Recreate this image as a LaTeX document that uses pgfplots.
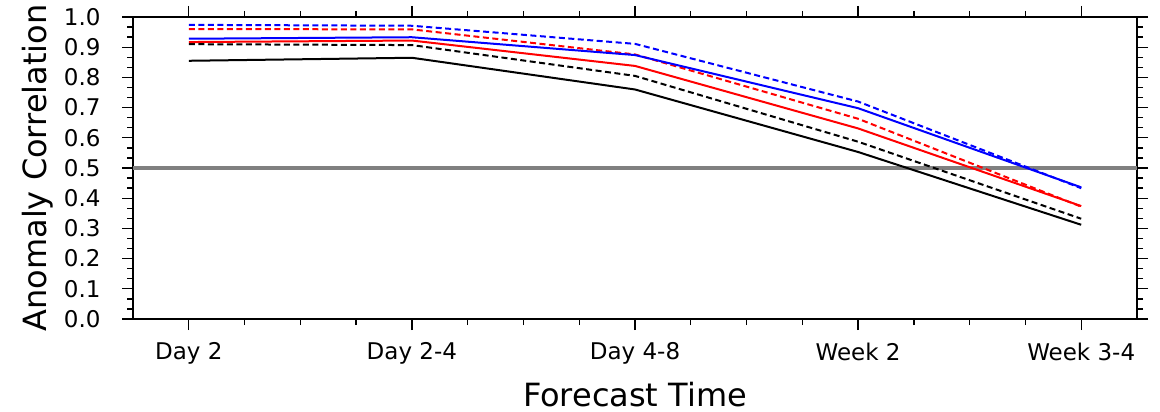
\documentclass[border=0pt]{standalone}
\usepackage{fontspec}
\setmainfont{DejaVu Sans}
\usepackage{pgfplots}
\pgfplotsset{compat=1.18}
\usetikzlibrary{calc}

\begin{document}
\begin{tikzpicture}
\begin{axis}[
    scale only axis,
    width=1004pt, height=302pt,
    xmin=-0.25, xmax=4.25,
    ymin=0, ymax=1,
    xtick={0,1,2,3,4},
    xticklabels={Day 2, Day 2-4, Day 4-8, Week 2, Week 3-4},
    minor x tick num=3,
    ytick={0,0.1,...,1.0},
    minor y tick num=2,
    /pgf/number format/assume math mode=true,
    tick align=outside,
    tick pos=both,
    xticklabel pos=bottom,
    yticklabel pos=left,
    major tick length=11pt,
    minor tick length=6pt,
    every tick/.style={black, line width=1.3pt},
    axis line style={line width=1.5pt},
    tick label style={font=\fontsize{23}{27}\selectfont},
    xticklabel style={yshift=-9pt},
    yticklabel style={xshift=-18pt, /pgf/number format/.cd, fixed, fixed zerofill, precision=1},
    xlabel={Forecast Time},
    ylabel={Anomaly Correlation},
    every axis x label/.style={at={(axis description cs:0.5,-0.25)}, anchor=center,
        font=\fontsize{32}{37}\selectfont},
    every axis y label/.style={at={(axis description cs:-0.0946,0.5)}, rotate=90, anchor=center,
        font=\fontsize{32}{37}\selectfont},
]
% reference line at 0.5
\addplot[gray, line width=4pt] coordinates {(-0.25,0.5) (4.25,0.5)};

\addplot[black, line width=2pt] coordinates {
    (0,0.855) (1,0.865) (2,0.760) (3,0.553) (4,0.312)};
\addplot[black, line width=2pt, dash pattern=on 6pt off 3.5pt] coordinates {
    (0,0.910) (1,0.907) (2,0.805) (3,0.587) (4,0.332)};
\addplot[red, line width=2pt] coordinates {
    (0,0.917) (1,0.922) (2,0.838) (3,0.631) (4,0.374)};
\addplot[red, line width=2pt, dash pattern=on 6pt off 3.5pt] coordinates {
    (0,0.960) (1,0.959) (2,0.876) (3,0.663) (4,0.372)};
\addplot[blue, line width=2pt] coordinates {
    (0,0.928) (1,0.933) (2,0.874) (3,0.698) (4,0.436)};
\addplot[blue, line width=2pt, dash pattern=on 6pt off 3.5pt] coordinates {
    (0,0.974) (1,0.971) (2,0.911) (3,0.720) (4,0.433)};
\end{axis}
\pgfresetboundingbox
\path ($(current axis.south west)+(-133pt,-92pt)$) rectangle ($(current axis.north east)+(23pt,17pt)$);
\end{tikzpicture}
\end{document}
